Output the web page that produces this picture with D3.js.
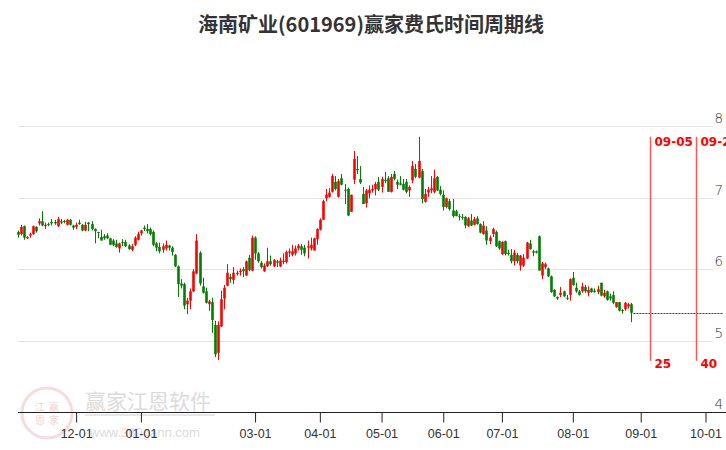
<!DOCTYPE html>
<html><head><meta charset="utf-8">
<script src="https://cdn.jsdelivr.net/npm/d3@7/dist/d3.min.js"></script>
<style>html,body{margin:0;padding:0;background:#fff;}svg{display:block;}</style>
</head><body><svg id="c" width="726" height="450"></svg>
<script>
const title = "海南矿业(601969)赢家费氏时间周期线";
const opens = [6.52,6.49,6.60,6.43,6.47,6.49,6.59,6.64,6.67,6.60,
6.63,6.66,6.66,6.60,6.67,6.67,6.62,6.69,6.61,6.59,
6.65,6.62,6.54,6.65,6.63,6.56,6.52,6.45,6.46,6.47,
6.43,6.40,6.36,6.29,6.38,6.38,6.33,6.27,6.34,6.41,
6.50,6.58,6.56,6.56,6.52,6.36,6.31,6.27,6.29,6.33,
6.30,6.20,6.04,5.80,5.79,5.51,5.56,5.69,5.94,6.23,
5.76,5.69,5.51,5.54,5.22,4.83,5.20,5.59,5.77,5.89,
5.85,5.93,5.96,6.00,5.91,6.16,5.98,6.44,6.22,6.09,
5.97,6.04,6.11,6.04,6.11,6.04,6.10,6.10,6.23,6.20,
6.22,6.29,6.32,6.30,6.30,6.29,6.26,6.42,6.55,6.69,
6.99,7.01,7.08,7.22,7.01,7.27,7.11,7.12,6.80,7.25,
7.40,7.26,7.05,6.92,7.06,7.10,7.12,7.22,7.15,7.25,
7.27,7.08,7.33,7.22,7.20,7.19,7.22,7.10,7.24,7.40,
7.28,7.37,6.94,7.07,7.10,7.08,7.29,7.11,7.04,6.87,
6.95,6.82,6.81,6.74,6.73,6.73,6.60,6.68,6.62,6.71,
6.63,6.49,6.54,6.39,6.49,6.52,6.39,6.21,6.39,6.23,
6.20,6.11,6.20,6.05,6.05,6.15,6.36,6.25,6.25,6.46,
5.91,6.03,6.01,5.90,5.71,5.61,5.64,5.69,5.60,5.64,
5.88,5.74,5.69,5.69,5.75,5.67,5.73,5.70,5.68,5.81,
5.62,5.69,5.62,5.64,5.47,5.54,5.43,5.44,5.48,5.51];
const highs = [6.54,6.62,6.61,6.46,6.51,6.61,6.60,6.71,6.81,6.65,
6.65,6.70,6.69,6.73,6.70,6.69,6.70,6.70,6.62,6.65,
6.69,6.63,6.66,6.66,6.67,6.57,6.52,6.55,6.49,6.50,
6.44,6.42,6.41,6.37,6.42,6.41,6.35,6.35,6.46,6.52,
6.55,6.61,6.63,6.58,6.54,6.38,6.37,6.36,6.40,6.34,
6.32,6.21,6.05,5.86,5.81,5.60,5.73,6.00,6.49,6.25,
5.88,5.74,5.57,5.60,5.28,5.27,5.70,5.78,6.07,5.93,
6.03,5.98,6.01,6.03,6.12,6.20,6.47,6.46,6.24,6.11,
6.08,6.30,6.19,6.14,6.13,6.16,6.22,6.26,6.29,6.34,
6.33,6.35,6.35,6.34,6.40,6.44,6.44,6.57,6.71,6.97,
7.12,7.13,7.33,7.30,7.26,7.33,7.19,7.14,7.04,7.65,
7.58,7.44,7.15,7.12,7.17,7.18,7.22,7.29,7.29,7.36,
7.30,7.33,7.37,7.25,7.30,7.26,7.26,7.17,7.51,7.47,
7.85,7.40,7.12,7.15,7.30,7.39,7.30,7.16,7.10,7.00,
6.98,6.98,6.83,6.77,6.77,6.74,6.73,6.77,6.73,6.74,
6.64,6.67,6.60,6.47,6.58,6.54,6.40,6.39,6.40,6.27,
6.28,6.27,6.23,6.20,6.21,6.38,6.41,6.27,6.26,6.47,
6.10,6.09,6.02,5.91,5.72,5.62,5.75,5.70,5.64,5.87,
5.96,5.81,5.71,5.81,5.78,5.76,5.74,5.73,5.77,5.81,
5.71,5.70,5.66,5.69,5.54,5.54,5.44,5.54,5.53,5.53];
const lows = [6.44,6.47,6.41,6.42,6.44,6.48,6.51,6.61,6.60,6.56,
6.60,6.61,6.62,6.59,6.63,6.64,6.61,6.61,6.55,6.56,
6.62,6.53,6.53,6.53,6.54,6.36,6.43,6.40,6.41,6.42,
6.34,6.32,6.30,6.23,6.32,6.31,6.27,6.25,6.32,6.40,
6.47,6.53,6.50,6.47,6.32,6.25,6.22,6.23,6.26,6.26,
6.19,6.03,5.61,5.73,5.44,5.37,5.44,5.68,5.93,5.77,
5.66,5.52,5.42,5.11,4.77,4.73,5.19,5.44,5.76,5.81,
5.79,5.91,5.91,5.89,5.91,5.97,5.97,6.13,6.09,6.01,
5.96,6.03,6.05,6.03,6.03,6.03,6.07,6.08,6.17,6.18,
6.19,6.26,6.20,6.18,6.15,6.26,6.26,6.34,6.54,6.69,
6.95,7.00,7.07,7.10,7.00,7.17,6.91,6.74,6.80,7.19,
7.33,7.19,6.91,6.86,6.99,7.07,7.03,7.09,7.07,7.20,
7.08,7.07,7.24,7.12,7.17,7.10,7.06,7.01,7.20,7.27,
7.27,6.92,6.93,7.01,7.06,7.06,7.09,7.03,6.82,6.85,
6.82,6.72,6.74,6.68,6.69,6.57,6.59,6.60,6.61,6.62,
6.50,6.48,6.34,6.35,6.45,6.31,6.27,6.20,6.19,6.19,
6.08,6.05,6.08,5.98,6.03,6.14,6.27,6.18,6.22,5.98,
5.86,6.00,5.89,5.67,5.61,5.57,5.61,5.61,5.57,5.56,
5.77,5.67,5.63,5.67,5.67,5.62,5.67,5.67,5.65,5.62,
5.60,5.56,5.56,5.51,5.46,5.41,5.38,5.42,5.45,5.26];
const closes = [6.48,6.59,6.44,6.45,6.49,6.60,6.53,6.67,6.61,6.62,
6.62,6.64,6.64,6.70,6.65,6.66,6.69,6.62,6.58,6.62,
6.63,6.54,6.62,6.63,6.56,6.53,6.51,6.40,6.43,6.43,
6.34,6.34,6.31,6.36,6.37,6.32,6.28,6.32,6.44,6.49,
6.54,6.56,6.53,6.49,6.34,6.30,6.25,6.32,6.34,6.30,
6.24,6.04,5.79,5.77,5.49,5.56,5.69,5.97,6.40,5.80,
5.67,5.53,5.55,5.29,4.81,5.22,5.58,5.74,5.95,5.86,
5.95,5.95,5.98,5.97,6.11,5.99,6.44,6.22,6.11,6.03,
6.05,6.11,6.07,6.13,6.09,6.12,6.12,6.24,6.25,6.25,
6.29,6.33,6.27,6.22,6.32,6.34,6.43,6.56,6.69,6.95,
7.04,7.07,7.30,7.12,7.23,7.18,7.10,6.75,7.04,7.54,
7.38,7.21,6.91,7.10,7.11,7.12,7.19,7.11,7.26,7.23,
7.08,7.29,7.26,7.18,7.18,7.11,7.08,7.15,7.44,7.29,
7.51,6.98,7.05,7.11,7.13,7.27,7.10,7.05,6.87,6.99,
6.84,6.74,6.74,6.73,6.72,6.61,6.71,6.61,6.70,6.63,
6.51,6.61,6.40,6.44,6.56,6.32,6.29,6.38,6.21,6.21,
6.11,6.23,6.11,6.19,6.16,6.37,6.28,6.23,6.23,5.98,
6.08,6.07,5.90,5.68,5.62,5.59,5.67,5.62,5.59,5.86,
5.78,5.69,5.64,5.76,5.69,5.71,5.68,5.68,5.72,5.63,
5.67,5.57,5.59,5.53,5.54,5.42,5.42,5.53,5.51,5.39];
// x-axis month ticks (trading-day index) and labels
const tickIdx = [19, 40, 77, 98, 118, 138, 157, 180, 202, 223];
const tickLabels = ["12-01","01-01","03-01","04-01","05-01","06-01","07-01","08-01","09-01","10-01"];
// price axis
const yTicks = [4, 5, 6, 7, 8];
// projected time-cycle lines
const projIdx = [205, 220];
const projDates = ["09-05", "09-26"];
const projDays = ["25", "40"];

const svg = d3.select("#c");
const W = 726, H = 450;
const x = d3.scaleLinear().domain([0, 223]).range([17.5, 705.5]);
const y = d3.scaleLinear().domain([4, 8]).range([412.3, 126]);

// title
svg.append("text").attr("x", W/2 + 8).attr("y", 32).attr("text-anchor","middle")
  .attr("font-family","'Noto Sans CJK SC', sans-serif").attr("font-weight","bold")
  .attr("font-size", 20).attr("fill","#333").text(title);

// watermark
const wm = svg.append("g").attr("opacity", 0.35);
wm.append("circle").attr("cx", 47).attr("cy", 413).attr("r", 25).attr("fill","none").attr("stroke","#e8a0a0").attr("stroke-width", 3);
[["江",40,411],["赢",54,411],["恩",40,424],["家",54,424]].forEach(d=>{
  wm.append("text").attr("x", d[1]).attr("y", d[2]).attr("text-anchor","middle").attr("font-size", 10)
   .attr("font-family","'Noto Sans CJK SC', sans-serif").attr("fill","#e08080").text(d[0]);
});
wm.append("text").attr("x", 85).attr("y", 409).attr("font-size", 21)
  .attr("font-family","'Noto Sans CJK SC', sans-serif").attr("fill","#999").text("赢家江恩软件");
wm.append("rect").attr("x", 85).attr("y", 414).attr("width", 130).attr("height", 2).attr("fill","#bbb");
wm.append("text").attr("x", 90).attr("y", 437).attr("font-size", 13)
  .attr("font-family","'Liberation Sans', sans-serif").attr("fill","#999").text("www.360gann.com");

// grid lines
svg.append("g").selectAll("line").data(yTicks.filter(v => v > 4)).join("line")
  .attr("x1", 18).attr("x2", 713).attr("y1", d => Math.round(y(d)) + 0.5).attr("y2", d => Math.round(y(d)) + 0.5)
  .attr("stroke", "#e3e3e3").attr("stroke-width", 1);

// right labels
svg.append("g").selectAll("text").data(yTicks).join("text")
  .attr("x", 723).attr("y", d => y(d) - 3).attr("text-anchor","end")
  .attr("font-family","'DejaVu Sans', sans-serif").attr("font-weight","300").attr("font-size", 13.5)
  .attr("fill","#333").text(d => d);

// x axis
const xAxis = d3.axisBottom(x).tickValues(tickIdx).tickFormat((d, i) => tickLabels[i]).tickSize(10).tickSizeOuter(0);
const ax = svg.append("g").attr("transform", "translate(0,412.5)").call(xAxis);
ax.select(".domain").attr("d", "M18,0H726").attr("stroke","#222");
ax.selectAll(".tick line").attr("stroke","#222");
ax.selectAll(".tick text").attr("y", 17).attr("font-size", 12.5).attr("fill","#333")
  .attr("font-family","'Liberation Sans Narrow', 'Arial Narrow', sans-serif");

// candles
const data = opens.map((o, i) => ({i, o, h: highs[i], l: lows[i], c: closes[i]}));
const bw = 2.6;
const cg = svg.append("g");
cg.selectAll("line").data(data).join("line")
  .attr("x1", d => Math.round(x(d.i)) + 0.5).attr("x2", d => Math.round(x(d.i)) + 0.5)
  .attr("y1", d => y(d.h)).attr("y2", d => y(d.l))
  .attr("stroke", d => d.c >= d.o ? "#ff0000" : "#008000").attr("stroke-width", 1);
cg.selectAll("rect").data(data).join("rect")
  .attr("x", d => Math.round(x(d.i)) + 0.5 - bw/2)
  .attr("width", bw)
  .attr("y", d => y(Math.max(d.o, d.c)))
  .attr("height", d => Math.max(1, Math.abs(y(d.o) - y(d.c))))
  .attr("fill", d => d.c >= d.o ? "#ff0000" : "#008000");

// last close dashed line
const last = closes[closes.length - 1];
svg.append("line").attr("x1", x(closes.length - 1) + 2).attr("x2", 723)
  .attr("y1", Math.round(y(last)) + 0.5).attr("y2", Math.round(y(last)) + 0.5)
  .attr("stroke", "#006400").attr("stroke-width", 1).attr("stroke-dasharray", "2,1");

// projection lines
const pg = svg.append("g");
projIdx.forEach((p, k) => {
  const px = Math.round(x(p)) + 0.5;
  pg.append("line").attr("x1", px).attr("x2", px).attr("y1", y(7.85)).attr("y2", y(4.72))
    .attr("stroke", "#ff5555").attr("stroke-width", 1.5);
  pg.append("text").attr("x", px + 4).attr("y", y(7.85) + 9).attr("font-size", 12).attr("font-weight","bold")
    .attr("font-family","'DejaVu Sans', sans-serif").attr("fill","#ff0000").text(projDates[k]);
  pg.append("text").attr("x", px + 4).attr("y", y(4.72) + 7).attr("font-size", 12).attr("font-weight","bold")
    .attr("font-family","'DejaVu Sans', sans-serif").attr("fill","#ff0000").text(projDays[k]);
});
</script></body></html>
